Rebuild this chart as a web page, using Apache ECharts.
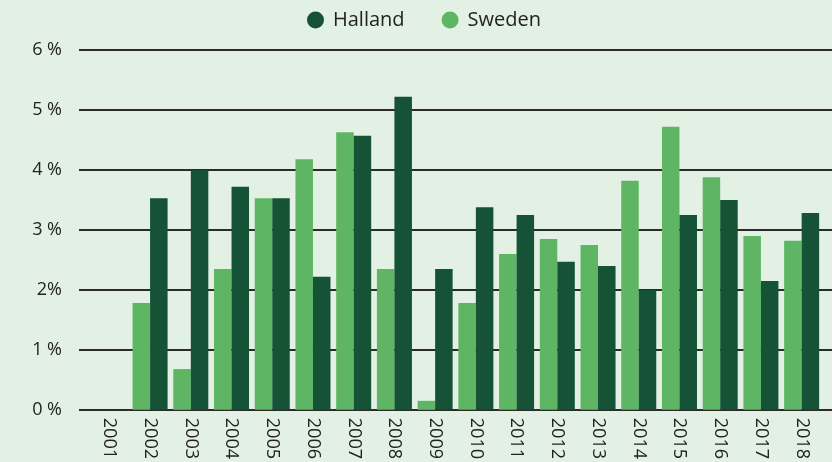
<!DOCTYPE html>
<html><head><meta charset="utf-8">
<script src="https://cdn.jsdelivr.net/npm/echarts@6/dist/echarts.min.js"></script>
<style>html,body{margin:0;padding:0;background:#e3f1e4;}#c{width:832px;height:462px;}</style>
</head><body><div id="c"></div>
<script>
const categories = ['2001','2002','2003','2004','2005','2006','2007','2008','2009','2010','2011','2012','2013','2014','2015','2016','2017','2018'];
const swedenValues = [0,1.78,0.68,2.35,3.53,4.18,4.63,2.35,0.15,1.78,2.6,2.85,2.75,3.82,4.72,3.88,2.9,2.82];
const hallandValues = [0,3.53,4.0,3.72,3.53,2.22,4.57,5.22,2.35,3.38,3.25,2.47,2.4,2.0,3.25,3.5,2.15,3.28];
const yTickLabels = ['0 %','1 %','2%','3 %','4 %','5 %','6 %'];

const chart = echarts.init(document.getElementById('c'));
const FONT = 'Open Sans';
chart.setOption({
  backgroundColor: '#e3f1e4',
  animation: false,
  textStyle: { fontFamily: FONT },
  legend: {
    data: ['Halland','Sweden'],
    top: 5, left: 302,
    icon: 'circle', itemWidth: 25, itemHeight: 17, itemGap: 37,
    textStyle: { fontSize: 20, color: '#222', fontFamily: FONT }
  },
  grid: [
    { left: 79, right: 0, top: 50, bottom: 52 },
    { left: 89, right: 10, top: 50, bottom: 52 }
  ],
  xAxis: [
    { gridIndex: 0, type: 'value', show: false, min: 0, max: 1 },
    { gridIndex: 1, type: 'category', data: categories,
      axisLine: { show: false }, axisTick: { show: false },
      axisLabel: { rotate: -90, fontSize: 18, color: '#222', margin: 8, interval: 0, fontFamily: FONT } }
  ],
  yAxis: [
    { gridIndex: 0, type: 'value', min: 0, max: 6, interval: 1,
      axisLine: { show: false }, axisTick: { show: false },
      splitLine: { lineStyle: { color: '#2b2b2b', width: 2 } },
      axisLabel: { margin: 17, fontSize: 18, color: '#222', fontFamily: FONT,
        formatter: (v) => yTickLabels[Math.round(v)] } },
    { gridIndex: 1, type: 'value', min: 0, max: 6, interval: 1, show: false }
  ],
  series: [
    { name: 'Sweden', type: 'bar', xAxisIndex: 1, yAxisIndex: 1, data: swedenValues,
      itemStyle: { color: '#5eb665' }, barGap: '0%', barCategoryGap: '14%' },
    { name: 'Halland', type: 'bar', xAxisIndex: 1, yAxisIndex: 1, data: hallandValues,
      itemStyle: { color: '#165236' }, barGap: '0%', barCategoryGap: '14%' }
  ]
});
</script></body></html>
